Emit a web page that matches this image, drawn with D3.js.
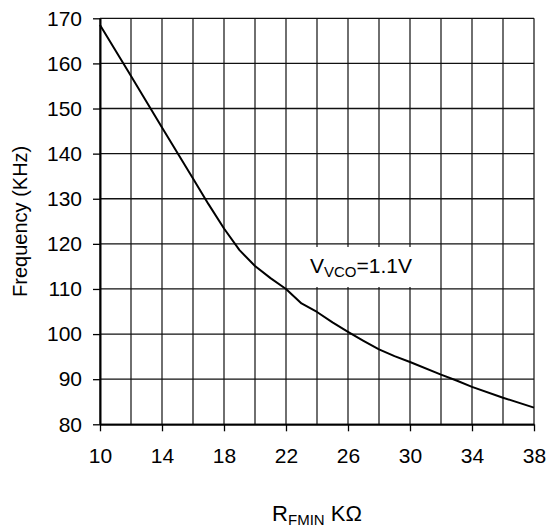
<!DOCTYPE html>
<html>
<head>
<meta charset="utf-8">
<script src="https://cdn.jsdelivr.net/npm/d3@7"></script>
<style>
  body { margin: 0; background: #fff; }
  text { font-family: "Liberation Sans", Arial, sans-serif; fill: #000; }
</style>
</head>
<body>
<script>
// Curve values (R in kOhm, frequency in KHz)
const rValues = [10, 12, 14, 16, 17, 18, 19, 20, 21, 22, 23, 24, 25, 26, 27, 28, 29, 30, 32, 33, 34, 36, 38];
const freqValues = [168.5, 157.2, 145.8, 134.5, 128.8, 123.4, 118.6, 115.1, 112.4, 110.0, 106.8, 104.9, 102.6, 100.5, 98.5, 96.6, 95.1, 93.8, 91.0, 89.7, 88.3, 85.9, 83.7];

const xTickLabels = [10, 14, 18, 22, 26, 30, 34, 38];
const xGridValues = [10, 12, 14, 16, 18, 20, 22, 24, 26, 28, 30, 32, 34, 36, 38];
const yTickLabels = [80, 90, 100, 110, 120, 130, 140, 150, 160, 170];

const data = rValues.map((r, i) => ({ r: r, f: freqValues[i] }));

let width = 553, height = 529;
let margin = { top: 18.3, bottom: 104.7, left: 100, right: 19 };

let svg = d3.select('body')
            .append('svg')
            .attr('width', width)
            .attr('height', height);

const xScale = d3.scaleLinear()
    .domain([10, 38])
    .range([margin.left, width - margin.right]);

const yScale = d3.scaleLinear()
    .domain([80, 170])
    .range([height - margin.bottom, margin.top]);

// vertical grid lines
svg.append("g")
   .selectAll("line")
   .data(xGridValues)
   .enter()
   .append("line")
   .attr("x1", d => xScale(d))
   .attr("x2", d => xScale(d))
   .attr("y1", yScale(170))
   .attr("y2", yScale(80))
   .attr("stroke", "#222")
   .attr("stroke-width", 1.3);

// horizontal grid lines
svg.append("g")
   .selectAll("line")
   .data(yTickLabels)
   .enter()
   .append("line")
   .attr("x1", xScale(10))
   .attr("x2", xScale(38))
   .attr("y1", d => yScale(d))
   .attr("y2", d => yScale(d))
   .attr("stroke", "#111")
   .attr("stroke-width", 1.3);

// x axis
const xAxis = svg.append("g")
   .attr("transform", `translate(0,${yScale(80)})`)
   .call(d3.axisBottom(xScale).tickValues(xTickLabels).tickSize(7).tickPadding(17).tickSizeOuter(0));
xAxis.select(".domain").attr("stroke", "#000").attr("stroke-width", 2);
xAxis.selectAll(".tick line").attr("stroke", "#000").attr("stroke-width", 1.3);
xAxis.selectAll("text").attr("font-size", "21px").attr("font-family", "Liberation Sans, Arial, sans-serif").attr("fill", "#000");

// y axis
const yAxis = svg.append("g")
   .attr("transform", `translate(${xScale(10)},0)`)
   .call(d3.axisLeft(yScale).tickValues(yTickLabels).tickSize(7).tickPadding(11).tickSizeOuter(0));
yAxis.select(".domain").attr("stroke", "#000").attr("stroke-width", 2);
yAxis.selectAll(".tick line").attr("stroke", "#000").attr("stroke-width", 1.3);
yAxis.selectAll("text").attr("font-size", "21px").attr("font-family", "Liberation Sans, Arial, sans-serif").attr("fill", "#000");

// the curve
const line = d3.line()
    .x(d => xScale(d.r))
    .y(d => yScale(d.f));

svg.append("path")
   .datum(data)
   .attr("fill", "none")
   .attr("stroke", "#000")
   .attr("stroke-width", 2)
   .attr("stroke-linejoin", "round")
   .attr("d", line);

// annotation with white box
const note = svg.append("g");
const noteBox = note.append("rect").attr("fill", "#fff");
const noteText = note.append("text")
   .attr("x", 310)
   .attr("y", 273)
   .attr("font-size", "21px");
noteText.append("tspan").text("V");
noteText.append("tspan").attr("font-size", "15px").attr("dy", 4).text("VCO");
noteText.append("tspan").attr("dy", -4).text("=1.1V");
const bb = noteText.node().getBBox();
noteBox.attr("x", bb.x - 7).attr("y", 247)
       .attr("width", bb.width + 14).attr("height", 40);

// x label
const xLabel = svg.append("text")
   .attr("x", (xScale(10) + xScale(38)) / 2)
   .attr("y", 521)
   .attr("text-anchor", "middle")
   .attr("font-size", "22px");
xLabel.append("tspan").text("R");
xLabel.append("tspan").attr("font-size", "15px").attr("dy", 4).text("FMIN");
xLabel.append("tspan").attr("dy", -4).text(" K\u03A9");

// y label
svg.append('text')
   .attr('transform', `translate(27,${(yScale(80) + yScale(170)) / 2}) rotate(-90)`)
   .attr('text-anchor', 'middle')
   .attr('font-size', '20px')
   .text('Frequency (KHz)');
</script>
</body>
</html>
